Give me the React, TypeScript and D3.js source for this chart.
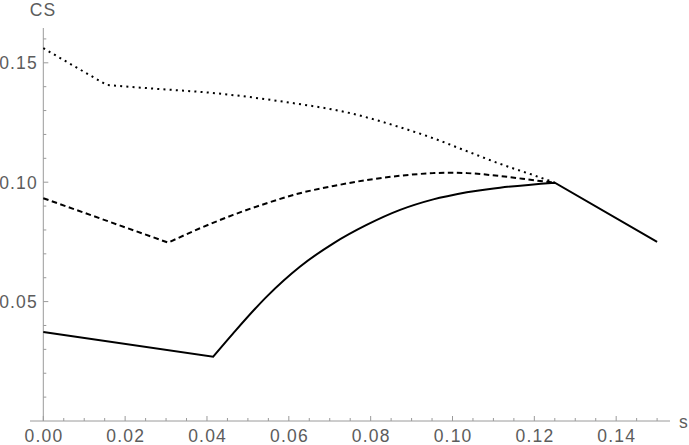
import React, { useEffect, useRef } from "react";
import * as d3 from "d3";

// solid curve
const solidS = [0, 0.0415, 0.0464, 0.0546, 0.0627, 0.0709, 0.079, 0.0872, 0.0953, 0.1035, 0.1116, 0.125, 0.15];
const solidCS = [0.0373, 0.0269, 0.0367, 0.0521, 0.0646, 0.0744, 0.0821, 0.0884, 0.0928, 0.0958, 0.0977, 0.0998, 0.075];
const solidBreaks = [0.0415, 0.1035, 0.125];

// dashed curve
const dashedS = [0, 0.0305, 0.0383, 0.0464, 0.0546, 0.0627, 0.0709, 0.079, 0.0872, 0.0953, 0.0994, 0.1035, 0.1116, 0.1214, 0.125];
const dashedCS = [0.0933, 0.0747, 0.0807, 0.0863, 0.0912, 0.0954, 0.0984, 0.1009, 0.1027, 0.1038, 0.104, 0.1038, 0.1026, 0.1005, 0.0998];
const dashedBreaks = [0.0305];

// dotted curve
const dottedS = [0, 0.0155, 0.0261, 0.0424, 0.0587, 0.075, 0.0872, 0.0953, 0.1035, 0.1116, 0.1197, 0.125];
const dottedCS = [0.1561, 0.1407, 0.1393, 0.1372, 0.1337, 0.1289, 0.123, 0.1184, 0.113, 0.1077, 0.103, 0.0998];
const dottedBreaks = [0.0155];

const xTicks = [0, 0.02, 0.04, 0.06, 0.08, 0.1, 0.12, 0.14];
const yTicks = [0.05, 0.1, 0.15];

export default function App() {
  const svgRef = useRef<SVGSVGElement>(null);

  useEffect(() => {
    const w = 689;
    const h = 445;
    const svg = d3.select(svgRef.current).attr("width", w).attr("height", h);
    svg.selectAll("*").remove();

    const x0 = 43.3;
    const y0 = 421;
    const xScale = d3.scaleLinear().domain([0, 0.15]).range([x0, x0 + 0.15 * 4092]);
    const yScale = d3.scaleLinear().domain([0, 0.15]).range([y0, y0 - 0.15 * 2388]);

    const axisColor = "#9a9a9a";
    const textColor = "#5c5c5c";
    const font = "'Liberation Sans', Arial, sans-serif";

    // axes
    svg.append("line")
      .attr("x1", 30).attr("x2", 670)
      .attr("y1", y0).attr("y2", y0)
      .attr("stroke", axisColor).attr("stroke-width", 1);
    svg.append("line")
      .attr("x1", x0).attr("x2", x0)
      .attr("y1", y0).attr("y2", 28)
      .attr("stroke", axisColor).attr("stroke-width", 1);

    // x ticks
    const xMinor = d3.range(0, 31).map((i) => i * 0.005);
    svg.append("g").selectAll("line")
      .data(xMinor)
      .join("line")
      .attr("x1", (d) => xScale(d)).attr("x2", (d) => xScale(d))
      .attr("y1", y0)
      .attr("y2", (d, i) => (i % 4 === 0 ? y0 - 5 : y0 - 3))
      .attr("stroke", axisColor);

    svg.append("g").selectAll("text")
      .data(xTicks)
      .join("text")
      .attr("x", (d) => xScale(d) + 0.6)
      .attr("y", 442.4)
      .attr("text-anchor", "middle")
      .style("font-family", font)
      .style("font-size", "17.5px")
      .style("letter-spacing", "1.2px")
      .style("fill", textColor)
      .text((d) => d3.format(".2f")(d));

    // y ticks
    const yMinor = d3.range(1, 17).map((i) => i * 0.01);
    svg.append("g").selectAll("line")
      .data(yMinor)
      .join("line")
      .attr("x1", x0)
      .attr("x2", (d, i) => ((i + 1) % 5 === 0 ? x0 + 5 : x0 + 3))
      .attr("y1", (d) => yScale(d)).attr("y2", (d) => yScale(d))
      .attr("stroke", axisColor);

    svg.append("g").selectAll("text")
      .data(yTicks)
      .join("text")
      .attr("x", 38)
      .attr("y", (d) => yScale(d) + 6.3)
      .attr("text-anchor", "end")
      .style("font-family", font)
      .style("font-size", "17.5px")
      .style("letter-spacing", "1.2px")
      .style("fill", textColor)
      .text((d) => d3.format(".2f")(d));

    // axis labels
    svg.append("text")
      .attr("x", 43).attr("y", 16)
      .attr("text-anchor", "middle")
      .style("font-family", font)
      .style("font-size", "17.5px")
      .style("letter-spacing", "1px")
      .style("fill", textColor)
      .text("CS");
    svg.append("text")
      .attr("x", 679).attr("y", 428)
      .style("font-family", font)
      .style("font-size", "17.5px")
      .style("fill", textColor)
      .text("s");

    // split a series into pieces at its kinks
    const pieces = (xs: number[], ys: number[], breaks: number[]) => {
      const out: [number, number][][] = [];
      let cur: [number, number][] = [];
      xs.forEach((s, i) => {
        cur.push([s, ys[i]]);
        if (breaks.includes(s) && cur.length > 1) {
          out.push(cur);
          cur = [[s, ys[i]]];
        }
      });
      if (cur.length > 1) out.push(cur);
      return out;
    };

    const line = d3.line<[number, number]>()
      .x((d) => xScale(d[0]))
      .y((d) => yScale(d[1]))
      .curve(d3.curveMonotoneX);

    const series = [
      { xs: dottedS, ys: dottedCS, breaks: dottedBreaks, dash: "2 4.2" },
      { xs: dashedS, ys: dashedCS, breaks: dashedBreaks, dash: "5.5 3.5" },
      { xs: solidS, ys: solidCS, breaks: solidBreaks, dash: null },
    ];

    series.forEach((sr) => {
      const pts: [number, number][] = sr.xs.map((s, i) => [s, sr.ys[i]]);
      // join pieces into one path so the dashes run on
      const d = pieces(sr.xs, sr.ys, sr.breaks)
        .map((p, i) => {
          const str = line(p) || "";
          return i === 0 ? str : str.replace(/^M[^LC]*/, "");
        })
        .join("");
      svg.append("path")
        .datum(pts)
        .attr("d", d)
        .attr("fill", "none")
        .attr("stroke", "black")
        .attr("stroke-width", 2)
        .attr("stroke-linejoin", "miter")
        .attr("stroke-dasharray", sr.dash);
    });
  }, []);

  return (
    <div>
      <svg ref={svgRef} style={{ position: "absolute", left: 0, top: 0 }}></svg>
    </div>
  );
}
